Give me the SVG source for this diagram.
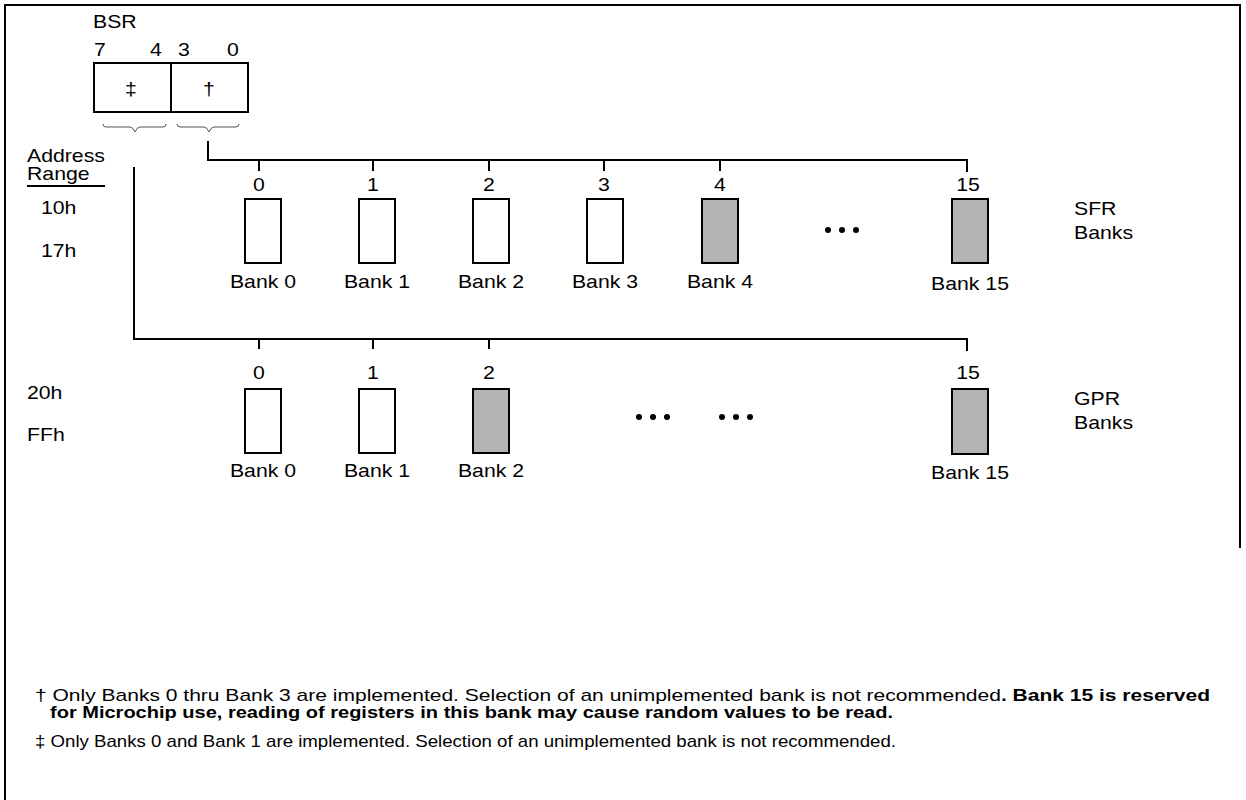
<svg xmlns="http://www.w3.org/2000/svg" width="1246" height="800" viewBox="0 0 1246 800">
  <style>
    text { font-family: "Liberation Sans", Arial, sans-serif; fill: #000; }
    .lbl { font-size: 18px; }
    .mid { text-anchor: middle; }
    .note { font-size: 17px; }
    .b { font-weight: bold; }
    .wire { fill: none; stroke: #000; stroke-width: 2; }
    .brace { fill: none; stroke: #555; stroke-width: 1; }
    .bank { fill: #fff; stroke: #000; stroke-width: 2; }
    .bank.off { fill: #b3b3b3; }
    .dot { fill: #000; }
  </style>

  <!-- page frame -->
  <path class="wire" d="M5,800 V5 H1240 V548"/>

  <!-- BSR register (labels are set in a slightly widened face: matrix scales x by 1.18) -->
  <g id="bsr">
    <text class="lbl" x="0" y="28" transform="matrix(1.18 0 0 1 93 0)">BSR</text>
    <text class="lbl" x="0" y="56" transform="matrix(1.18 0 0 1 94 0)">7</text>
    <text class="lbl" x="0" y="56" transform="matrix(1.18 0 0 1 150 0)">4</text>
    <text class="lbl" x="0" y="56" transform="matrix(1.18 0 0 1 178 0)">3</text>
    <text class="lbl" x="0" y="56" transform="matrix(1.18 0 0 1 227 0)">0</text>
    <rect class="bank" x="94" y="63" width="154" height="49"/>
    <line class="wire" x1="171" y1="63" x2="171" y2="112"/>
    <text class="lbl mid" x="0" y="95" transform="matrix(1.18 0 0 1 131 0)">‡</text>
    <text class="lbl mid" x="0" y="95" transform="matrix(1.18 0 0 1 209 0)">†</text>
    <path class="brace" d="M103,124 Q103,127 106,127 H130 Q133,127 135,132 Q137,127 140,127 H163 Q166,127 166,124"/>
    <path class="brace" d="M177,124 Q177,127 180,127 H204 Q207,127 209,132 Q211,127 214,127 H236 Q239,127 239,124"/>
  </g>

  <!-- address range column -->
  <g id="address">
    <text class="lbl" x="0" y="162" transform="matrix(1.18 0 0 1 27 0)">Address</text>
    <text class="lbl" x="0" y="180" transform="matrix(1.18 0 0 1 27 0)">Range</text>
    <line class="wire" x1="27" y1="186" x2="105" y2="186"/>
    <text class="lbl" x="0" y="214" transform="matrix(1.18 0 0 1 41 0)">10h</text>
    <text class="lbl" x="0" y="257" transform="matrix(1.18 0 0 1 41 0)">17h</text>
    <text class="lbl" x="0" y="399" transform="matrix(1.18 0 0 1 27 0)">20h</text>
    <text class="lbl" x="0" y="441" transform="matrix(1.18 0 0 1 27 0)">FFh</text>
  </g>

  <!-- bank select buses -->
  <g id="connectors">
    <path class="wire" d="M208,141 V160 H967 V172"/>
    <line class="wire" x1="259" y1="160" x2="259" y2="171"/>
    <line class="wire" x1="373" y1="160" x2="373" y2="171"/>
    <line class="wire" x1="489" y1="160" x2="489" y2="171"/>
    <line class="wire" x1="604" y1="160" x2="604" y2="171"/>
    <line class="wire" x1="720" y1="160" x2="720" y2="171"/>
    <path class="wire" d="M134,167 V339 H967 V351"/>
    <line class="wire" x1="259" y1="339" x2="259" y2="349"/>
    <line class="wire" x1="373" y1="339" x2="373" y2="349"/>
    <line class="wire" x1="489" y1="339" x2="489" y2="349"/>
  </g>

  <!-- SFR banks -->
  <g id="sfr-bank0">
    <text class="lbl mid" x="0" y="191" transform="matrix(1.18 0 0 1 259 0)">0</text>
    <rect class="bank" x="245" y="199" width="36" height="64"/>
    <text class="lbl mid" x="0" y="288" transform="matrix(1.18 0 0 1 263 0)">Bank 0</text>
  </g>
  <g id="sfr-bank1">
    <text class="lbl mid" x="0" y="191" transform="matrix(1.18 0 0 1 373 0)">1</text>
    <rect class="bank" x="359" y="199" width="36" height="64"/>
    <text class="lbl mid" x="0" y="288" transform="matrix(1.18 0 0 1 377 0)">Bank 1</text>
  </g>
  <g id="sfr-bank2">
    <text class="lbl mid" x="0" y="191" transform="matrix(1.18 0 0 1 489 0)">2</text>
    <rect class="bank" x="473" y="199" width="36" height="64"/>
    <text class="lbl mid" x="0" y="288" transform="matrix(1.18 0 0 1 491 0)">Bank 2</text>
  </g>
  <g id="sfr-bank3">
    <text class="lbl mid" x="0" y="191" transform="matrix(1.18 0 0 1 604 0)">3</text>
    <rect class="bank" x="587" y="199" width="36" height="64"/>
    <text class="lbl mid" x="0" y="288" transform="matrix(1.18 0 0 1 605 0)">Bank 3</text>
  </g>
  <g id="sfr-bank4">
    <text class="lbl mid" x="0" y="191" transform="matrix(1.18 0 0 1 720 0)">4</text>
    <rect class="bank off" x="702" y="199" width="36" height="64"/>
    <text class="lbl mid" x="0" y="288" transform="matrix(1.18 0 0 1 720 0)">Bank 4</text>
  </g>
  <g id="sfr-ellipsis">
    <circle class="dot" cx="828" cy="230" r="3"/>
    <circle class="dot" cx="842" cy="230" r="3"/>
    <circle class="dot" cx="856" cy="230" r="3"/>
  </g>
  <g id="sfr-bank15">
    <text class="lbl mid" x="0" y="191" transform="matrix(1.18 0 0 1 968 0)">15</text>
    <rect class="bank off" x="952" y="199" width="36" height="64"/>
    <text class="lbl mid" x="0" y="290" transform="matrix(1.18 0 0 1 970 0)">Bank 15</text>
  </g>
  <g id="sfr-title">
    <text class="lbl" x="0" y="215" transform="matrix(1.18 0 0 1 1074 0)">SFR</text>
    <text class="lbl" x="0" y="239" transform="matrix(1.18 0 0 1 1074 0)">Banks</text>
  </g>

  <!-- GPR banks -->
  <g id="gpr-bank0">
    <text class="lbl mid" x="0" y="379" transform="matrix(1.18 0 0 1 259 0)">0</text>
    <rect class="bank" x="245" y="389" width="36" height="64"/>
    <text class="lbl mid" x="0" y="477" transform="matrix(1.18 0 0 1 263 0)">Bank 0</text>
  </g>
  <g id="gpr-bank1">
    <text class="lbl mid" x="0" y="379" transform="matrix(1.18 0 0 1 373 0)">1</text>
    <rect class="bank" x="359" y="389" width="36" height="64"/>
    <text class="lbl mid" x="0" y="477" transform="matrix(1.18 0 0 1 377 0)">Bank 1</text>
  </g>
  <g id="gpr-bank2">
    <text class="lbl mid" x="0" y="379" transform="matrix(1.18 0 0 1 489 0)">2</text>
    <rect class="bank off" x="473" y="389" width="36" height="64"/>
    <text class="lbl mid" x="0" y="477" transform="matrix(1.18 0 0 1 491 0)">Bank 2</text>
  </g>
  <g id="gpr-ellipsis">
    <circle class="dot" cx="639" cy="417" r="3"/>
    <circle class="dot" cx="653" cy="417" r="3"/>
    <circle class="dot" cx="667" cy="417" r="3"/>
    <circle class="dot" cx="722" cy="417" r="3"/>
    <circle class="dot" cx="736" cy="417" r="3"/>
    <circle class="dot" cx="750" cy="417" r="3"/>
  </g>
  <g id="gpr-bank15">
    <text class="lbl mid" x="0" y="379" transform="matrix(1.18 0 0 1 968 0)">15</text>
    <rect class="bank off" x="952" y="389" width="36" height="65"/>
    <text class="lbl mid" x="0" y="479" transform="matrix(1.18 0 0 1 970 0)">Bank 15</text>
  </g>
  <g id="gpr-title">
    <text class="lbl" x="0" y="405" transform="matrix(1.18 0 0 1 1074 0)">GPR</text>
    <text class="lbl" x="0" y="429" transform="matrix(1.18 0 0 1 1074 0)">Banks</text>
  </g>

  <!-- footnotes -->
  <g id="notes">
    <text class="note" x="35" y="701" textLength="1175" lengthAdjust="spacingAndGlyphs">† Only Banks 0 thru Bank 3 are implemented. Selection of an unimplemented bank is not recommended<tspan class="b">. Bank 15 is reserved</tspan></text>
    <text class="note b" x="50" y="718" textLength="843" lengthAdjust="spacingAndGlyphs">for Microchip use, reading of registers in this bank may cause random values to be read.</text>
    <text class="note" x="35" y="747" textLength="861" lengthAdjust="spacingAndGlyphs">‡ Only Banks 0 and Bank 1 are implemented. Selection of an unimplemented bank is not recommended.</text>
  </g>
</svg>
